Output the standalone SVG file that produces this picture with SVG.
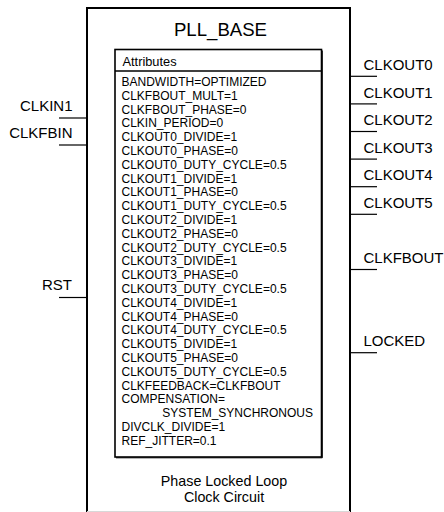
<svg xmlns="http://www.w3.org/2000/svg" width="444" height="512" viewBox="0 0 444 512">
<style>
text{font-family:"Liberation Sans",Arial,Helvetica,sans-serif;fill:#000}
.pin{font-size:15px}
.attr{font-size:12px}
.wire{stroke:#000;stroke-width:1.2;fill:none}
</style>
<rect x="0" y="0" width="444" height="512" fill="#fff"/>
<g id="pll_base">
<path d="M87,513 V8 H350 V513" fill="none" stroke="#000" stroke-width="2"/>
<line x1="87" y1="511.5" x2="350" y2="511.5" stroke="#d8d8d8" stroke-width="1"/>
<text x="220.5" y="35.5" font-size="18.6" text-anchor="middle">PLL_BASE</text>
<text x="224" y="486" font-size="14.3" text-anchor="middle">Phase Locked Loop</text>
<text x="224" y="502" font-size="14.3" text-anchor="middle">Clock Circuit</text>
</g>
<g id="attributes">
<rect x="115" y="49.5" width="206.5" height="407.5" fill="#fff" stroke="#000" stroke-width="1.6"/>
<polyline points="322.3,50.5 322.3,457.8 116,457.8" fill="none" stroke="#000" stroke-width="1"/>
<line x1="115" y1="71" x2="321.5" y2="71" stroke="#000" stroke-width="1.6"/>
<text x="122.5" y="66" font-size="12.8">Attributes</text>
<text class="attr" x="121.5" y="86">
<tspan x="121.5">BANDWIDTH=OPTIMIZED</tspan>
<tspan x="121.5" dy="13.8">CLKFBOUT_MULT=1</tspan>
<tspan x="121.5" dy="13.8">CLKFBOUT_PHASE=0</tspan>
<tspan x="121.5" dy="13.8">CLKIN_PERIOD=0</tspan>
<tspan x="121.5" dy="13.8">CLKOUT0_DIVIDE=1</tspan>
<tspan x="121.5" dy="13.8">CLKOUT0_PHASE=0</tspan>
<tspan x="121.5" dy="13.8">CLKOUT0_DUTY_CYCLE=0.5</tspan>
<tspan x="121.5" dy="13.8">CLKOUT1_DIVIDE=1</tspan>
<tspan x="121.5" dy="13.8">CLKOUT1_PHASE=0</tspan>
<tspan x="121.5" dy="13.8">CLKOUT1_DUTY_CYCLE=0.5</tspan>
<tspan x="121.5" dy="13.8">CLKOUT2_DIVIDE=1</tspan>
<tspan x="121.5" dy="13.8">CLKOUT2_PHASE=0</tspan>
<tspan x="121.5" dy="13.8">CLKOUT2_DUTY_CYCLE=0.5</tspan>
<tspan x="121.5" dy="13.8">CLKOUT3_DIVIDE=1</tspan>
<tspan x="121.5" dy="13.8">CLKOUT3_PHASE=0</tspan>
<tspan x="121.5" dy="13.8">CLKOUT3_DUTY_CYCLE=0.5</tspan>
<tspan x="121.5" dy="13.8">CLKOUT4_DIVIDE=1</tspan>
<tspan x="121.5" dy="13.8">CLKOUT4_PHASE=0</tspan>
<tspan x="121.5" dy="13.8">CLKOUT4_DUTY_CYCLE=0.5</tspan>
<tspan x="121.5" dy="13.8">CLKOUT5_DIVIDE=1</tspan>
<tspan x="121.5" dy="13.8">CLKOUT5_PHASE=0</tspan>
<tspan x="121.5" dy="13.8">CLKOUT5_DUTY_CYCLE=0.5</tspan>
<tspan x="121.5" dy="13.8">CLKFEEDBACK=CLKFBOUT</tspan>
<tspan x="121.5" dy="13.8">COMPENSATION=</tspan>
<tspan x="121.5" dy="27.6">DIVCLK_DIVIDE=1</tspan>
<tspan x="121.5" dy="13.8">REF_JITTER=0.1</tspan>
</text>
<text class="attr" x="313" y="417.2" text-anchor="end">SYSTEM_SYNCHRONOUS</text>
</g>
<g id="connectors">
<line class="wire" x1="59" y1="118" x2="87" y2="118"/>
<line class="wire" x1="59" y1="145" x2="87" y2="145"/>
<line class="wire" x1="59" y1="297.5" x2="87" y2="297.5"/>
<line class="wire" x1="350" y1="76.3" x2="377" y2="76.3"/>
<line class="wire" x1="350" y1="103.9" x2="377" y2="103.9"/>
<line class="wire" x1="350" y1="131.5" x2="377" y2="131.5"/>
<line class="wire" x1="350" y1="159.1" x2="377" y2="159.1"/>
<line class="wire" x1="350" y1="186.7" x2="377" y2="186.7"/>
<line class="wire" x1="350" y1="214.3" x2="377" y2="214.3"/>
<line class="wire" x1="350" y1="269.5" x2="377" y2="269.5"/>
<line class="wire" x1="350" y1="352.7" x2="377" y2="352.7"/>
</g>
<g id="pin_clkin1"><text class="pin" x="72.5" y="111" text-anchor="end">CLKIN1</text></g>
<g id="pin_clkfbin"><text class="pin" x="72.5" y="138" text-anchor="end">CLKFBIN</text></g>
<g id="pin_rst"><text class="pin" x="72" y="290" text-anchor="end">RST</text></g>
<g id="pin_clkout0"><text class="pin" x="363.5" y="70">CLKOUT0</text></g>
<g id="pin_clkout1"><text class="pin" x="363.5" y="97.6">CLKOUT1</text></g>
<g id="pin_clkout2"><text class="pin" x="363.5" y="125.2">CLKOUT2</text></g>
<g id="pin_clkout3"><text class="pin" x="363.5" y="152.8">CLKOUT3</text></g>
<g id="pin_clkout4"><text class="pin" x="363.5" y="180.4">CLKOUT4</text></g>
<g id="pin_clkout5"><text class="pin" x="363.5" y="208">CLKOUT5</text></g>
<g id="pin_clkfbout"><text class="pin" x="363.5" y="263.2">CLKFBOUT</text></g>
<g id="pin_locked"><text class="pin" x="363.5" y="346.4">LOCKED</text></g>
</svg>
